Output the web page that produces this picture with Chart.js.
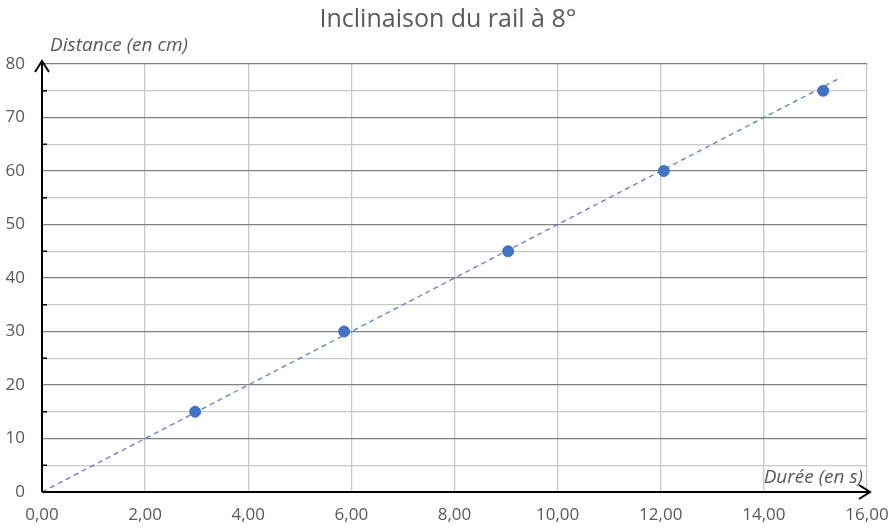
<!DOCTYPE html>
<html>
<head>
<meta charset="utf-8">
<script src="https://cdn.jsdelivr.net/npm/chart.js@4"></script>
<style>
  html, body { margin: 0; padding: 0; background: #fff; }
  #wrap { width: 896px; height: 528px; }
</style>
</head>
<body>
<div id="wrap"><canvas id="chart" width="896" height="528"></canvas></div>
<script>
// values
const durations = [2.97, 5.86, 9.04, 12.06, 15.15];
const distances = [15, 30, 45, 60, 75];
const trendX = [0, 15.5];
const trendY = [0, 77.5];
const xTicks = [0, 2, 4, 6, 8, 10, 12, 14, 16];
const yTicks = [0, 10, 20, 30, 40, 50, 60, 70, 80];

const titleText = 'Inclinaison du rail à 8°';
const yTitle = 'Distance (en cm)';
const xTitle = 'Durée (en s)';
const grey = '#595959';
const font = '"Open Sans", sans-serif';

// title, axis titles, arrows and minor ticks
const decor = {
  id: 'decor',
  afterDraw(chart) {
    const ctx = chart.ctx;
    const { left, right, top, bottom } = chart.chartArea;
    const yScale = chart.scales.y;
    ctx.save();
    ctx.fillStyle = grey;
    ctx.textBaseline = 'middle';
    ctx.font = '25px ' + font;
    ctx.textAlign = 'center';
    ctx.fillText(titleText, 448, 20);
    ctx.font = 'italic 19px ' + font;
    ctx.textAlign = 'left';
    ctx.fillText(yTitle, 50, 46);
    ctx.textAlign = 'right';
    ctx.fillText(xTitle, right - 4, bottom - 14);

    ctx.strokeStyle = '#000';
    ctx.lineWidth = 2;
    ctx.beginPath();
    ctx.moveTo(left, bottom);
    ctx.lineTo(left, top - 3);
    ctx.moveTo(left - 7, top + 8);
    ctx.lineTo(left, top - 3);
    ctx.lineTo(left + 7, top + 8);
    ctx.moveTo(left, bottom);
    ctx.lineTo(right + 3, bottom);
    ctx.moveTo(right - 8, bottom - 7);
    ctx.lineTo(right + 3, bottom);
    ctx.lineTo(right - 8, bottom + 7);
    ctx.stroke();

    ctx.lineWidth = 1.5;
    ctx.beginPath();
    for (let v = 5; v < 80; v += 10) {
      const py = yScale.getPixelForValue(v);
      ctx.moveTo(left, py);
      ctx.lineTo(left + 5, py);
    }
    ctx.stroke();
    ctx.restore();
  }
};

new Chart(document.getElementById('chart'), {
  type: 'scatter',
  data: {
    datasets: [
      {
        label: 'Mesures',
        data: durations.map((d, i) => ({ x: d, y: distances[i] })),
        backgroundColor: '#4472C4',
        borderColor: '#4472C4',
        pointRadius: 5.5,
        pointHoverRadius: 5.5
      },
      {
        label: 'Tendance',
        type: 'line',
        data: trendX.map((d, i) => ({ x: d, y: trendY[i] })),
        borderColor: '#5B7DC2',
        borderWidth: 1.3,
        borderDash: [5, 4],
        pointRadius: 0,
        fill: false
      }
    ]
  },
  options: {
    responsive: false,
    animation: false,
    layout: { padding: { top: 64, right: 29, bottom: 0, left: 0 } },
    plugins: {
      legend: { display: false },
      title: { display: false },
      tooltip: { enabled: false }
    },
    scales: {
      x: {
        type: 'linear',
        min: 0,
        max: 16,
        afterBuildTicks: (s) => { s.ticks = xTicks.map(v => ({ value: v })); },
        afterFit: (s) => { s.height = 36; s.paddingLeft = 0; s.paddingRight = 0; },
        border: { display: false },
        grid: { color: '#c8c8c8', lineWidth: 1.3, drawTicks: false },
        ticks: {
          padding: 13,
          color: grey,
          font: { family: font, size: 17 },
          callback: (v) => v.toFixed(2).replace('.', ',')
        }
      },
      y: {
        type: 'linear',
        min: 0,
        max: 80,
        afterBuildTicks: (s) => {
          const t = [];
          for (let v = 0; v <= 80; v += 5) t.push({ value: v });
          s.ticks = t;
        },
        afterFit: (s) => { s.width = 42; s.paddingTop = 0; s.paddingBottom = 0; },
        border: { display: false },
        grid: {
          drawTicks: false,
          lineWidth: 1.3,
          color: (c) => (yTicks.includes(c.tick.value) ? '#7f7f7f' : '#c8c8c8')
        },
        ticks: {
          padding: 17,
          color: grey,
          font: { family: font, size: 17 },
          callback: (v) => (yTicks.includes(v) ? String(v) : '')
        }
      }
    }
  },
  plugins: [decor]
});
</script>
</body>
</html>
